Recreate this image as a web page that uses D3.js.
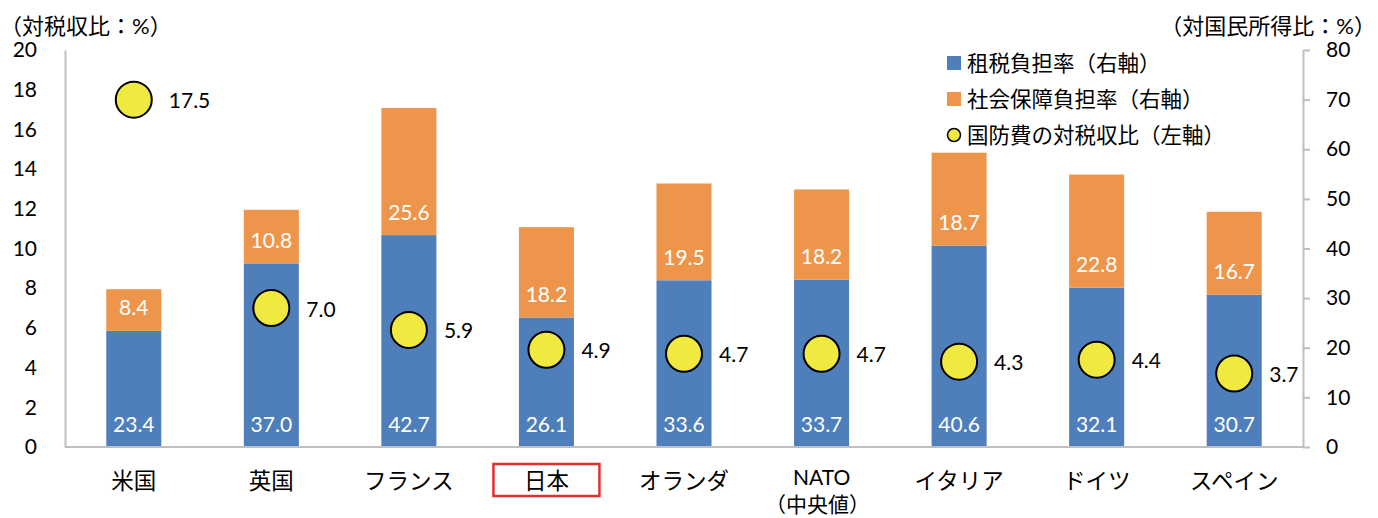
<!DOCTYPE html>
<html>
<head>
<meta charset="utf-8">
<script src="https://cdn.jsdelivr.net/npm/d3@7"></script>
<style>
  html, body { margin: 0; padding: 0; background: #fff; }
  svg text { font-family: Lato, "Noto Sans CJK JP", sans-serif; fill: #000; }
</style>
</head>
<body>
<svg id="chart" width="1378" height="518"></svg>
<script>
// Categories and series
const categories = ["米国", "英国", "フランス", "日本", "オランダ", "NATO", "イタリア", "ドイツ", "スペイン"];
const categorySubLabels = ["", "", "", "", "", "（中央値）", "", "", ""];
const taxBurden = [23.4, 37.0, 42.7, 26.1, 33.6, 33.7, 40.6, 32.1, 30.7];      // 租税負担率 (right axis)
const socialBurden = [8.4, 10.8, 25.6, 18.2, 19.5, 18.2, 18.7, 22.8, 16.7];     // 社会保障負担率 (right axis)
const defenseRatio = [17.5, 7.0, 5.9, 4.9, 4.7, 4.7, 4.3, 4.4, 3.7];            // 国防費の対税収比 (left axis)
const leftTicks = [0, 2, 4, 6, 8, 10, 12, 14, 16, 18, 20];
const rightTicks = [0, 10, 20, 30, 40, 50, 60, 70, 80];
const legendLabels = ["租税負担率（右軸）", "社会保障負担率（右軸）", "国防費の対税収比（左軸）"];
const highlighted = "日本";

const colors = { tax: "#4f7fbb", social: "#ee954c", dot: "#efe940", axis: "#bfbfbf", highlight: "#e3302f" };

const svg = d3.select("#chart");
const plot = { left: 65, right: 1303, top: 50, bottom: 447 };

const x = d3.scaleBand().domain(categories).range([plot.left, plot.right])
  .paddingInner(0.6).paddingOuter(0.3);
const yL = d3.scaleLinear().domain([0, 20]).range([plot.bottom, plot.top]);
const yR = d3.scaleLinear().domain([0, 80]).range([plot.bottom, plot.top]);

const rows = categories.map((c, i) => ({
  cat: c, sub: categorySubLabels[i], tax: taxBurden[i], social: socialBurden[i], dot: defenseRatio[i]
}));

// Stacked bars
const barG = svg.append("g");
rows.forEach(d => {
  const bx = x(d.cat), bw = x.bandwidth();
  barG.append("rect").attr("x", bx).attr("width", bw)
    .attr("y", yR(d.tax)).attr("height", yR(0) - yR(d.tax)).attr("fill", colors.tax);
  barG.append("rect").attr("x", bx).attr("width", bw)
    .attr("y", yR(d.tax + d.social)).attr("height", yR(d.tax) - yR(d.tax + d.social)).attr("fill", colors.social);
  // labels sit near the base of each segment
  barG.append("text").attr("x", bx + bw / 2).attr("y", yR(0) - 24)
    .attr("text-anchor", "middle").attr("dominant-baseline", "central")
    .style("fill", "#fff").style("font-size", "21px").text(d.tax.toFixed(1));
  barG.append("text").attr("x", bx + bw / 2).attr("y", yR(d.tax) - 24)
    .attr("text-anchor", "middle").attr("dominant-baseline", "central")
    .style("fill", "#fff").style("font-size", "21px").text(d.social.toFixed(1));
});

// Axes
const axisL = d3.axisLeft(yL).tickValues(leftTicks).tickSize(0).tickPadding(28).tickSizeOuter(0);
const gL = svg.append("g").attr("transform", `translate(${plot.left},0)`).call(axisL);
const axisR = d3.axisRight(yR).tickValues(rightTicks).tickSize(7).tickPadding(16).tickSizeOuter(0);
const gR = svg.append("g").attr("transform", `translate(${plot.right},0)`).call(axisR);
[gL, gR].forEach(g => {
  g.select(".domain").attr("stroke", colors.axis).attr("stroke-width", 2);
  g.selectAll(".tick line").attr("stroke", colors.axis).attr("stroke-width", 2);
  g.selectAll(".tick text").style("font-size", "21px").style("fill", "#000")
    .style("font-family", "Lato, sans-serif");
});
svg.append("line").attr("x1", plot.left).attr("x2", plot.right)
  .attr("y1", plot.bottom).attr("y2", plot.bottom)
  .attr("stroke", colors.axis).attr("stroke-width", 2);

// Defense spending markers
const dotG = svg.append("g");
rows.forEach(d => {
  const cx = x(d.cat) + x.bandwidth() / 2;
  dotG.append("circle").attr("cx", cx).attr("cy", yL(d.dot)).attr("r", 18)
    .attr("fill", colors.dot).attr("stroke", "#000").attr("stroke-width", 2);
  dotG.append("text").attr("x", cx + 35).attr("y", yL(d.dot))
    .attr("dominant-baseline", "central").style("font-size", "21px").text(d.dot.toFixed(1));
});

// Category labels (two-line labels sit slightly higher)
const catG = svg.append("g");
rows.forEach(d => {
  const cx = x(d.cat) + x.bandwidth() / 2;
  catG.append("text").attr("x", cx).attr("y", d.sub ? 476 : 480).attr("text-anchor", "middle")
    .attr("dominant-baseline", "central")
    .style("font-size", d.sub ? "21px" : "22.5px").text(d.cat);
  if (d.sub) {
    catG.append("text").attr("x", cx - 4).attr("y", 503).attr("text-anchor", "middle")
      .attr("dominant-baseline", "central").style("font-size", "21px").text(d.sub);
  }
  if (d.cat === highlighted) {
    catG.append("rect").attr("x", cx - 53).attr("y", 464).attr("width", 106).attr("height", 32)
      .attr("fill", "none").attr("stroke", colors.highlight).attr("stroke-width", 2.5);
  }
});

// Axis titles
svg.append("text").attr("x", 0).attr("y", 25).attr("dominant-baseline", "central")
  .style("font-size", "22px").text("（対税収比：%）");
svg.append("text").attr("x", 1376).attr("y", 25).attr("text-anchor", "end")
  .attr("dominant-baseline", "central").style("font-size", "22px").text("（対国民所得比：%）");

// Legend
const legend = svg.append("g").attr("transform", "translate(947,0)");
const legendY = [63, 99, 135];
legend.append("rect").attr("x", 0).attr("y", legendY[0] - 7).attr("width", 14).attr("height", 14).attr("fill", colors.tax);
legend.append("rect").attr("x", 0).attr("y", legendY[1] - 7).attr("width", 14).attr("height", 14).attr("fill", colors.social);
legend.append("circle").attr("cx", 7).attr("cy", legendY[2]).attr("r", 6.5)
  .attr("fill", colors.dot).attr("stroke", "#000").attr("stroke-width", 1.5);
legendLabels.forEach((t, i) => {
  legend.append("text").attr("x", 20).attr("y", legendY[i]).attr("dominant-baseline", "central")
    .style("font-size", "21.5px").text(t);
});
</script>
</body>
</html>
